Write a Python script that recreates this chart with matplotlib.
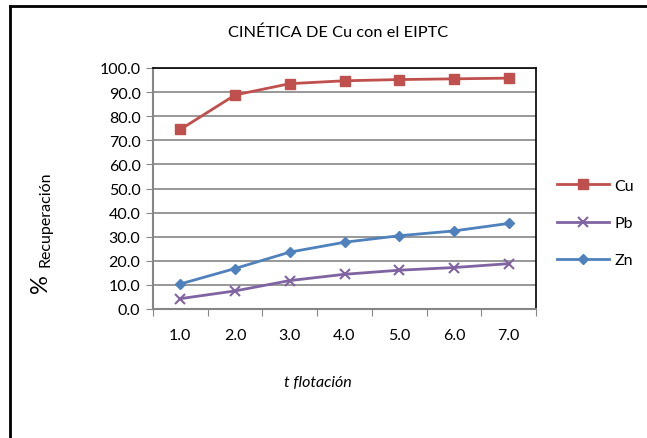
import matplotlib.pyplot as plt
from matplotlib.lines import Line2D

plt.rcParams['font.family'] = ['Lato', 'DejaVu Sans']

# datos
t_labels = ['1.0', '2.0', '3.0', '4.0', '5.0', '6.0', '7.0']
cu = [74.5, 88.8, 93.5, 94.7, 95.2, 95.5, 95.8]
pb = [4.3, 7.5, 11.8, 14.4, 16.1, 17.2, 18.8]
zn = [10.4, 16.8, 23.6, 27.7, 30.4, 32.4, 35.5]
y_ticks = [0, 10, 20, 30, 40, 50, 60, 70, 80, 90, 100]

fig = plt.figure(figsize=(6.47, 4.39), dpi=100)
W, H = 647, 439
ax = fig.add_axes([153 / W, 1 - 310 / H, (536 - 153) / W, (310 - 69) / H])

x = list(range(len(t_labels)))
ax.plot(x, cu, color='#C0504D', marker='s', markersize=6.5, lw=2, label='Cu')
ax.plot(x, pb, color='#8064A2', marker='x', markersize=6.5, mew=1.5, lw=2, label='Pb')
ax.plot(x, zn, color='#4F81BD', marker='D', markersize=5, lw=2, label='Zn')

ax.set_xlim(-0.5, len(t_labels) - 0.5)
ax.set_ylim(0, 100)
ax.set_yticks(y_ticks)
ax.set_yticklabels([f'{v:.1f}' for v in y_ticks], fontsize=11.5)
ax.yaxis.grid(True, color='#868686', lw=1.2)
ax.set_axisbelow(True)

# ticks del eje x entre categorías (estilo Excel)
ax.set_xticks([i - 0.5 for i in range(len(t_labels) + 1)])
ax.set_xticklabels([])
ax.set_xticks(x, minor=True)
ax.set_xticklabels(t_labels, minor=True, fontsize=11.5)
ax.tick_params(axis='x', which='minor', length=0, pad=14)
ax.tick_params(axis='x', which='major', direction='out', length=5, color='#868686')
ax.tick_params(axis='y', direction='out', length=5, color='#868686', pad=4)

for s in ['top', 'right']:
    ax.spines[s].set_color('black')
    ax.spines[s].set_linewidth(1.2)
for s in ['left', 'bottom']:
    ax.spines[s].set_color('#868686')
    ax.spines[s].set_linewidth(1.5)

fig.text(338 / W, 1 - 33 / H, 'CINÉTICA DE Cu con el EIPTC', ha='center', va='center', fontsize=11.8)
fig.text(318 / W, 1 - 383 / H, 't flotación', ha='center', va='center', fontsize=11.5, style='italic')
fig.text(41 / W, 1 - 293 / H, '%', rotation=90, ha='center', va='bottom', fontsize=17)
fig.text(45 / W, 1 - 267 / H, 'Recuperación', rotation=90, ha='center', va='bottom', fontsize=11.5)

fig.legend(loc='center left', bbox_to_anchor=(557 / W, 1 - 224 / H), frameon=False,
           fontsize=11.5, handlelength=3.25, labelspacing=1.44, handletextpad=0.35,
           borderpad=0, borderaxespad=0)

# borde exterior (solo arriba e izquierda visibles)
fig.add_artist(Line2D([10 / W, 10 / W], [0, 1 - 7 / H], color='black', lw=2))
fig.add_artist(Line2D([10 / W, 1], [1 - 7 / H, 1 - 7 / H], color='black', lw=2))

fig.savefig('out.png', dpi=100)
